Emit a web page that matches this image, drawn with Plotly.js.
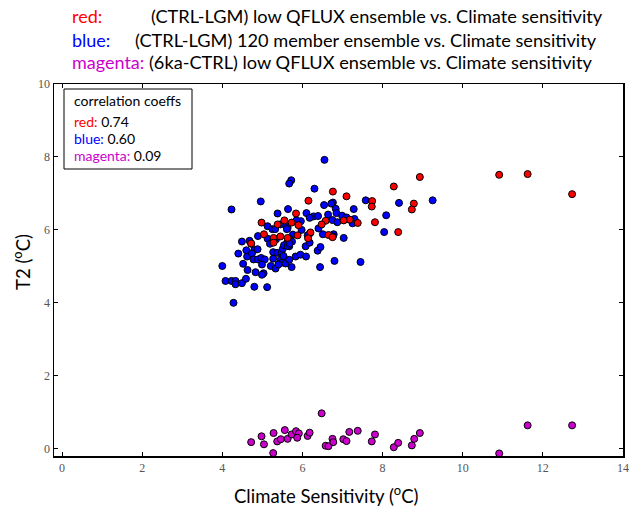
<!DOCTYPE html>
<html>
<head>
<meta charset="utf-8">
<script src="https://cdn.plot.ly/plotly-3.0.1.min.js"></script>
<style>html,body{margin:0;padding:0;background:#fff;}#chart{width:629px;height:510px;}</style>
</head>
<body>
<div id="chart"></div>
<script>
// ---- data ----
const redX = [8.28,6.76,7.10,6.15,7.74,7.73,7.81,8.39,7.38,7.18,7.03,6.58,6.48,6.65,6.75,6.20,6.14,5.84,5.90,5.88,5.73,5.55,5.38,4.98,5.04,5.28,5.28,5.45,5.63,4.72,8.93,8.78,8.73,10.91,11.62,12.73];
const redY = [7.19,7.05,6.92,6.80,6.79,6.64,6.21,5.94,6.19,6.28,6.26,6.25,6.15,5.86,5.80,5.93,5.77,6.45,6.13,5.85,6.20,6.26,6.15,6.20,5.88,5.78,5.65,5.82,5.78,5.63,7.45,6.72,6.56,7.51,7.53,6.98];

const blueX = [6.55,5.72,5.67,6.30,4.96,4.23,7.58,8.41,6.54,6.76,6.72,6.83,6.85,7.28,5.64,5.38,6.10,6.28,6.39,6.18,6.64,6.75,6.87,6.99,7.10,7.30,7.25,8.09,8.04,5.96,5.85,5.45,5.60,5.63,5.61,5.13,5.25,5.32,5.98,6.19,6.13,6.40,6.51,6.78,6.76,7.03,5.76,5.67,5.74,5.62,5.67,4.89,5.13,5.19,5.34,5.28,4.49,4.68,4.72,4.60,4.80,4.88,4.40,4.62,4.74,4.78,4.89,4.97,5.06,5.27,5.37,5.48,5.51,5.54,5.63,5.68,5.46,5.53,5.48,5.58,5.67,5.73,5.27,5.21,5.33,5.40,4.52,4.63,4.83,4.99,5.03,4.99,4.00,4.08,4.23,4.33,4.33,4.49,4.59,4.80,5.12,5.83,5.95,6.09,6.08,6.18,6.38,6.45,6.44,6.80,7.45,4.28,9.25];
const blueY = [7.92,7.36,7.27,7.13,6.78,6.56,6.81,6.74,6.68,6.75,6.72,6.58,6.46,6.57,6.57,6.45,6.46,6.37,6.38,6.33,6.42,6.27,6.21,6.39,6.34,6.30,6.18,6.40,5.94,6.24,6.26,6.15,6.13,6.05,6.02,6.10,6.02,6.02,6.00,5.91,5.85,6.04,5.88,5.88,5.82,5.78,5.87,5.76,5.68,5.65,5.55,5.83,5.76,5.62,5.74,5.71,5.68,5.70,5.62,5.44,5.45,5.47,5.35,5.27,5.35,5.19,5.19,5.23,5.19,5.39,5.37,5.36,5.48,5.58,5.56,5.62,5.19,5.28,5.10,5.08,5.18,4.98,5.21,5.01,4.94,5.05,5.07,4.90,4.84,5.05,4.81,4.77,5.01,4.60,4.60,4.60,4.51,4.54,4.66,4.44,4.43,5.27,5.32,5.27,5.55,5.65,5.43,5.53,4.98,5.15,5.12,4.00,6.81];

const magX = [4.72,4.98,5.04,5.27,5.28,5.37,5.46,5.56,5.63,5.73,5.84,5.91,5.87,6.13,6.18,6.48,6.58,6.65,6.75,6.77,7.02,7.10,7.17,7.38,7.73,7.81,8.28,8.39,8.73,8.79,8.93,11.62,12.73,10.91];
const magY = [0.18,0.34,0.12,-0.12,0.43,0.20,0.26,0.51,0.27,0.39,0.48,0.42,0.30,0.35,0.44,0.97,0.08,0.07,0.27,0.18,0.26,0.21,0.46,0.49,0.20,0.39,0.04,0.16,0.09,0.27,0.43,0.64,0.64,-0.13];

const xTicks = [0,2,4,6,8,10,12,14];
const yTicks = [0,2,4,6,8,10];

const titleLabels = ['red:', 'blue:', 'magenta:'];
const titleTexts = ['(CTRL-LGM) low QFLUX ensemble vs. Climate sensitivity',
                    '(CTRL-LGM) 120 member ensemble vs. Climate sensitivity',
                    '(6ka-CTRL) low QFLUX ensemble vs. Climate sensitivity'];
const corrNames = ['red:', 'blue:', 'magenta:'];
const corrValues = ['0.74', '0.60', '0.09'];

// ---- styling ----
const colRed = 'rgb(255,0,0)', colBlue = 'rgb(0,0,255)', colMag = 'rgb(204,0,204)';
const seriesColors = [colRed, colBlue, colMag];
const sans = 'Lato, "Open Sans", sans-serif';
const serif = '"Liberation Serif", "DejaVu Serif", serif';

// plot area in pixels: left 54, right 623, top 84, bottom 456
const L = 54, R = 623, T = 84, B = 456;
const px = x => (x - L) / (R - L);
const py = y => (B - y) / (B - T);

function mk(x, y, c, name) {
  return {x: x, y: y, type: 'scatter', mode: 'markers', name: name,
    marker: {color: c, size: 7, line: {color: '#000', width: 1}}, hoverinfo: 'x+y'};
}

const traces = [mk(blueX, blueY, colBlue, 'blue'), mk(redX, redY, colRed, 'red'), mk(magX, magY, colMag, 'magenta')];

const annotations = [];
const titleY = [16, 40, 62];
const textStartX = [149, 133, 147];
for (let i = 0; i < 3; i++) {
  annotations.push({xref: 'paper', yref: 'paper', x: px(70), y: py(titleY[i]), xanchor: 'left', yanchor: 'middle',
    text: titleLabels[i], showarrow: false, font: {family: sans, size: 18, color: seriesColors[i]}});
  annotations.push({xref: 'paper', yref: 'paper', x: px(textStartX[i]), y: py(titleY[i]), xanchor: 'left', yanchor: 'middle',
    text: titleTexts[i], showarrow: false, font: {family: sans, size: 18.2, color: '#000'}});
}
// correlation box text
const corrY = [101, 121, 138, 155];
annotations.push({xref: 'paper', yref: 'paper', x: px(72), y: py(corrY[0]), xanchor: 'left', yanchor: 'middle',
  text: 'correlation coeffs', showarrow: false, font: {family: sans, size: 14, color: '#000'}});
for (let i = 0; i < 3; i++) {
  annotations.push({xref: 'paper', yref: 'paper', x: px(72), y: py(corrY[i + 1]), xanchor: 'left', yanchor: 'middle',
    text: '<span style="color:' + seriesColors[i] + '">' + corrNames[i] + '</span> ' + corrValues[i],
    showarrow: false, font: {family: sans, size: 14, color: '#000'}});
}
// axis titles
annotations.push({xref: 'paper', yref: 'paper', x: px(326), y: py(495), xanchor: 'center', yanchor: 'middle',
  text: 'Climate Sensitivity (<sup>o</sup>C)', showarrow: false, font: {family: sans, size: 18.5, color: '#000'}});
annotations.push({xref: 'paper', yref: 'paper', x: px(21), y: py(262), xanchor: 'center', yanchor: 'middle', textangle: -90,
  text: 'T2 (<sup>o</sup>C)', showarrow: false, font: {family: sans, size: 18.5, color: '#000'}});

const shapes = [{type: 'rect', xref: 'paper', yref: 'paper', x0: px(64), x1: px(192), y0: py(89), y1: py(169),
  line: {color: '#000', width: 1}, fillcolor: '#fff', layer: 'above'}];

const axisCommon = {showgrid: false, zeroline: false, showline: true, linecolor: '#000', linewidth: 1.5,
  mirror: 'ticks', ticks: 'inside', ticklen: 4, tickcolor: '#000', tickwidth: 1,
  tickfont: {family: serif, size: 12, color: '#555'}};

const layout = {
  width: 629, height: 510,
  margin: {l: L, r: 629 - R, t: T, b: 510 - B, pad: 0},
  paper_bgcolor: '#fff', plot_bgcolor: '#fff',
  showlegend: false,
  xaxis: Object.assign({}, axisCommon, {range: [-0.2, 14], tickvals: xTicks, ticktext: xTicks.map(String)}),
  yaxis: Object.assign({}, axisCommon, {range: [-0.2, 10], tickvals: yTicks, ticktext: yTicks.map(String)}),
  annotations: annotations,
  shapes: shapes
};

Plotly.newPlot('chart', traces, layout, {displayModeBar: false, staticPlot: true});
</script>
</body>
</html>
